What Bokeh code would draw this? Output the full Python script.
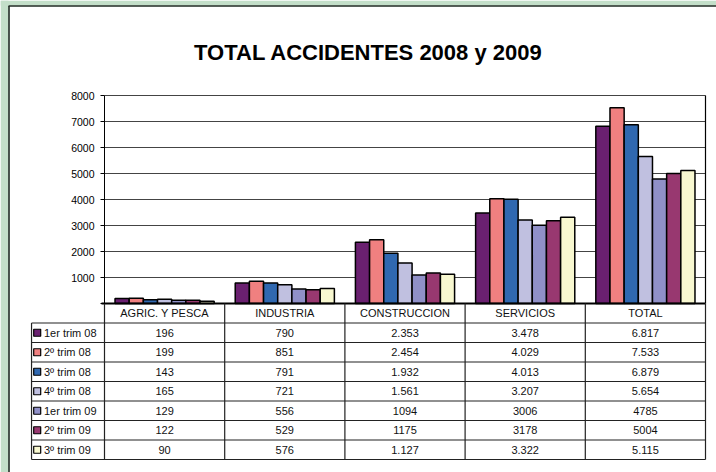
from bokeh.plotting import figure
from bokeh.models import Range1d, FixedTicker, LinearAxis
from bokeh.core.properties import value
from bokeh.embed import file_html
from bokeh.resources import INLINE

# ---------------- data ----------------
categories = ["AGRIC. Y PESCA", "INDUSTRIA", "CONSTRUCCION", "SERVICIOS", "TOTAL"]
series_names = ["1er trim 08", "2º trim 08", "3º trim 08", "4º trim 08",
                "1er trim 09", "2º trim 09", "3º trim 09"]
series_colors = ["#6a2070", "#f08080", "#3068b0", "#c0c0e0", "#9090c8", "#983870", "#f8f8d0"]

trim1_08 = ["196", "790", "2.353", "3.478", "6.817"]
trim2_08 = ["199", "851", "2.454", "4.029", "7.533"]
trim3_08 = ["143", "791", "1.932", "4.013", "6.879"]
trim4_08 = ["165", "721", "1.561", "3.207", "5.654"]
trim1_09 = ["129", "556", "1094", "3006", "4785"]
trim2_09 = ["122", "529", "1175", "3178", "5004"]
trim3_09 = ["90", "576", "1.127", "3.322", "5.115"]

table_rows = [trim1_08, trim2_08, trim3_08, trim4_08, trim1_09, trim2_09, trim3_09]
values = [[int(s.replace(".", "")) for s in row] for row in table_rows]

y_ticks = [0, 1000, 2000, 3000, 4000, 5000, 6000, 7000, 8000]
title_text = "TOTAL ACCIDENTES 2008 y 2009"

# ---------------- layout constants ----------------
W, H = 716, 472
FONT = "Liberation Sans"
n_cat = len(categories)
n_ser = len(series_names)
PX_PER_CAT = 120.2      # pixels per category slot
X0_PX = 104             # page x of the value axis
PX_PER_VAL = 0.026      # pixels per accident
Y0_PX = 303             # page y of value 0
ROW = 750               # table row height in value units (19.5 px)
group_w = 0.825
bw = group_w / n_ser
label_w = 0.607
Y_MAX = y_ticks[-1]


def px_x(px):
    return (px - X0_PX) / PX_PER_CAT


def px_y(py):
    return (Y0_PX - py) / PX_PER_VAL


p = figure(width=W, height=H, output_backend="svg", toolbar_location=None,
           x_range=Range1d(px_x(0), px_x(W)), y_range=Range1d(px_y(H), px_y(0)),
           x_axis_location=None, y_axis_location=None,
           min_border_left=0, min_border_right=0, min_border_top=0, min_border_bottom=0)
p.background_fill_color = "white"
p.border_fill_color = "white"
p.outline_line_color = None
p.grid.visible = False

# ---- panel decoration (green frame strips + dark edge) ----
green = "#c3dfc9"
p.quad(left=[px_x(0), px_x(0)], right=[px_x(8), px_x(W)],
       bottom=[px_y(H), px_y(5)], top=[px_y(0), px_y(0)],
       fill_color=green, line_color=None)
p.segment(x0=[px_x(8.5), px_x(8)], y0=[px_y(5.5), px_y(5.5)],
          x1=[px_x(8.5), px_x(W)], y1=[px_y(H), px_y(5.5)],
          line_color="#1e2a22", line_width=1.6)

# ---- title ----
p.text(x=[px_x(368)], y=[px_y(52)], text=[title_text], text_font=value(FONT),
       text_font_size=value("22px"), text_font_style="bold", text_color="black",
       text_align="center", text_baseline="alphabetic")

# ---- gridlines and chart border ----
grid_y = y_ticks[1:]
p.segment(x0=[0] * len(grid_y), y0=grid_y, x1=[n_cat] * len(grid_y), y1=grid_y,
          line_color="#444444", line_width=1)
p.segment(x0=[n_cat], y0=[0], x1=[n_cat], y1=[Y_MAX], line_color="black", line_width=1.2)

# ---- bars ----
for j in range(n_ser):
    xs = [i + 0.5 + (j - (n_ser - 1) / 2) * bw for i in range(n_cat)]
    p.vbar(x=xs, top=values[j], bottom=0, width=bw,
           fill_color=series_colors[j], line_color="black", line_width=1.5)

# baseline
p.segment(x0=[px_x(101)], y0=[0], x1=[n_cat], y1=[0], line_color="black", line_width=2)

# ---- value axis ----
ax = LinearAxis(fixed_location=0)
ax.ticker = FixedTicker(ticks=y_ticks)
ax.bounds = (0, Y_MAX)
ax.major_label_overrides = {0: ""}
ax.major_label_text_font = FONT
ax.major_label_text_font_size = "10.5px"
ax.major_label_text_color = "black"
ax.major_label_standoff = 6
ax.major_tick_out = 4
ax.major_tick_in = 0
ax.minor_tick_out = 0
ax.minor_tick_in = 0
ax.axis_line_color = "black"
ax.major_tick_line_color = "black"
p.add_layout(ax, "left")

# ---- data table ----
line_col = "#222222"
n_rows = n_ser + 1
row_y = [-ROW * k for k in range(n_rows + 1)]
# horizontal lines (below header)
hy = row_y[1:]
p.segment(x0=[-label_w] * len(hy), y0=hy, x1=[n_cat] * len(hy), y1=hy,
          line_color=line_col, line_width=1.2)
# vertical lines
vx = list(range(n_cat + 1))
p.segment(x0=vx, y0=[0] * len(vx), x1=vx, y1=[row_y[-1]] * len(vx),
          line_color=line_col, line_width=1.2)
p.segment(x0=[-label_w], y0=[row_y[1]], x1=[-label_w], y1=[row_y[-1]],
          line_color=line_col, line_width=1.2)

mid = [-(k + 0.5) * ROW for k in range(n_rows)]
# header
p.text(x=[i + 0.5 for i in range(n_cat)], y=[mid[0]] * n_cat, text=categories,
       text_font=value(FONT), text_font_size=value("11px"), text_color="#111111",
       text_align="center", text_baseline="middle")
# rows
for j in range(n_ser):
    p.text(x=[i + 0.5 for i in range(n_cat)], y=[mid[j + 1]] * n_cat, text=table_rows[j],
           text_font=value(FONT), text_font_size=value("11px"), text_color="#111111",
           text_align="center", text_baseline="middle")

p.scatter(x=[px_x(36.7)] * n_ser, y=mid[1:], marker="square",
          size=7, fill_color=series_colors, line_color="black", line_width=1.2)
p.text(x=[px_x(43.5)] * n_ser, y=mid[1:], text=series_names,
       text_font=value(FONT), text_font_size=value("11px"), text_color="#111111",
       text_align="left", text_baseline="middle")

open("out.html", "w").write(file_html(p, INLINE))
